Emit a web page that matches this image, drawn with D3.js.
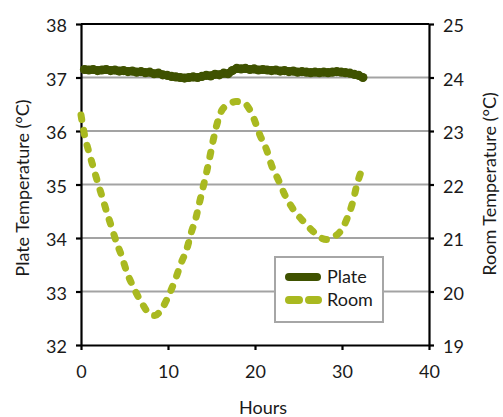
<!DOCTYPE html>
<html>
<head>
<meta charset="utf-8">
<script src="https://cdn.jsdelivr.net/npm/d3@7"></script>
<style>
  html, body { margin: 0; padding: 0; background: #fff; }
  svg text { font-family: Lato, "Open Sans", sans-serif; fill: #1a1a1a; }
</style>
</head>
<body>
<svg id="chart" width="503" height="417"></svg>
<script>
// Plate temperature (left axis, °C) by elapsed hours
const plateHours = [0.4,0.9,1.4,1.9,2.4,2.9,3.4,3.9,4.4,4.9,5.4,5.9,6.4,6.9,7.4,7.9,8.4,8.9,9.4,9.9,10.4,10.9,11.4,11.9,12.4,12.9,13.4,13.9,14.4,14.9,15.4,15.9,16.4,16.9,17.4,17.9,18.4,18.9,19.4,19.9,20.4,20.9,21.4,21.9,22.4,22.9,23.4,23.9,24.4,24.9,25.4,25.9,26.4,26.9,27.4,27.9,28.4,28.9,29.4,29.9,30.4,30.9,31.4,31.9,32.4];
const plateTemp = [37.15,37.14,37.15,37.13,37.14,37.15,37.13,37.14,37.12,37.13,37.11,37.12,37.10,37.11,37.09,37.10,37.07,37.08,37.05,37.04,37.02,37.01,37.00,36.99,37.00,37.01,37.00,37.02,37.04,37.03,37.06,37.05,37.08,37.07,37.13,37.17,37.16,37.17,37.15,37.16,37.14,37.15,37.14,37.13,37.14,37.12,37.13,37.11,37.12,37.10,37.11,37.10,37.09,37.10,37.09,37.10,37.09,37.10,37.11,37.10,37.09,37.08,37.06,37.04,37.00];

// Room temperature (right axis, °C) by elapsed hours
const roomHours = [0,0.4,0.9,1.4,1.9,2.45,2.95,3.5,4.1,4.7,5.25,6.0,6.9,7.9,8.5,9.3,10.2,10.9,11.5,12.15,12.65,13.2,13.6,14.05,14.45,14.85,15.2,15.6,16.2,17.0,17.8,18.6,19.2,19.9,20.55,21.35,21.9,22.7,23.45,24.3,25.4,26.7,27.6,28.3,29.0,29.8,30.6,31.3,31.7,32.15];
const roomTemp = [23.30,22.93,22.61,22.33,22.05,21.76,21.49,21.21,20.91,20.65,20.37,20.09,19.81,19.58,19.55,19.68,19.97,20.25,20.53,20.79,21.09,21.37,21.65,21.96,22.24,22.55,22.83,23.11,23.39,23.50,23.55,23.54,23.45,23.22,22.93,22.64,22.36,22.08,21.80,21.56,21.34,21.12,21.00,20.97,21.02,21.12,21.37,21.71,21.99,22.22];

// Axis ticks and labels
const xTicks = [0, 10, 20, 30, 40];
const leftTicks = [32, 33, 34, 35, 36, 37, 38];
const rightTicks = [19, 20, 21, 22, 23, 24, 25];
const seriesNames = ["Plate", "Room"];
const xTitle = "Hours";
const leftTitle = "Plate Temperature (°C)";
const rightTitle = "Room Temperature (°C)";

const plateColor = "#3f5200";
const roomColor = "#a9b920";

const svg = d3.select("#chart");
const L = 81, R = 429, T = 24, B = 345;

const x = d3.scaleLinear().domain([0, 40]).range([L, R]);
const yL = d3.scaleLinear().domain([32, 38]).range([B, T]);
const yR = d3.scaleLinear().domain([19, 25]).range([B, T]);
const fmt = d3.format("d");

// horizontal gridlines
svg.append("g").selectAll("line")
  .data(leftTicks.filter(v => v > 32 && v < 38))
  .join("line")
  .attr("x1", L).attr("x2", R)
  .attr("y1", d => yL(d)).attr("y2", d => yL(d))
  .attr("stroke", "#a3a3a3").attr("stroke-width", 2);

// top frame line
svg.append("line")
  .attr("x1", L).attr("x2", R).attr("y1", T).attr("y2", T)
  .attr("stroke", "#000").attr("stroke-width", 2);

function styleAxis(g) {
  g.select(".domain").attr("stroke", "#000").attr("stroke-width", 2.2);
  g.selectAll(".tick line").attr("stroke", "#000").attr("stroke-width", 2.2);
  g.selectAll("text").attr("font-size", 18).attr("font-family", "Lato, sans-serif").attr("fill", "#1a1a1a");
}

svg.append("g").attr("transform", `translate(0,${B})`)
  .call(d3.axisBottom(x).tickValues(xTicks).tickFormat(fmt).tickSize(5).tickSizeOuter(0).tickPadding(15))
  .call(styleAxis);

svg.append("g").attr("transform", `translate(${L},0)`)
  .call(d3.axisLeft(yL).tickValues(leftTicks).tickFormat(fmt).tickSize(5).tickSizeOuter(0).tickPadding(9))
  .call(styleAxis)
  .selectAll("text").attr("dy", "0.42em");

svg.append("g").attr("transform", `translate(${R},0)`)
  .call(d3.axisRight(yR).tickValues(rightTicks).tickFormat(fmt).tickSize(5).tickSizeOuter(0).tickPadding(9))
  .call(styleAxis)
  .selectAll("text").attr("dy", "0.42em");

// Room temperature: thick rounded dashes
const roomLine = d3.line()
  .x((d, i) => x(roomHours[i]))
  .y(d => yR(d))
  .curve(d3.curveMonotoneX);
svg.append("path")
  .attr("d", roomLine(roomTemp))
  .attr("fill", "none")
  .attr("stroke", roomColor)
  .attr("stroke-width", 7)
  .attr("stroke-linecap", "round")
  .attr("stroke-dasharray", "4.5,11");

// Plate temperature: dense round markers joined by a heavy line
const plateLine = d3.line()
  .x((d, i) => x(plateHours[i]))
  .y(d => yL(d));
svg.append("path")
  .attr("d", plateLine(plateTemp))
  .attr("fill", "none")
  .attr("stroke", plateColor)
  .attr("stroke-width", 8)
  .attr("stroke-linejoin", "round")
  .attr("stroke-linecap", "round");
svg.append("g").selectAll("circle")
  .data(plateTemp)
  .join("circle")
  .attr("cx", (d, i) => x(plateHours[i]))
  .attr("cy", d => yL(d))
  .attr("r", 4.6)
  .attr("fill", plateColor);

// legend
const lg = svg.append("g").attr("transform", "translate(275,257)");
lg.append("rect").attr("width", 108).attr("height", 65)
  .attr("fill", "#fff").attr("stroke", "#a6a6a6").attr("stroke-width", 2);
lg.append("line").attr("x1", 14).attr("x2", 42).attr("y1", 20).attr("y2", 20)
  .attr("stroke", plateColor).attr("stroke-width", 8).attr("stroke-linecap", "round");
lg.append("line").attr("x1", 14).attr("x2", 43).attr("y1", 43).attr("y2", 43)
  .attr("stroke", roomColor).attr("stroke-width", 8).attr("stroke-linecap", "round")
  .attr("stroke-dasharray", "10,10");
lg.selectAll("text.lbl").data(seriesNames).join("text")
  .attr("class", "lbl")
  .attr("x", 52).attr("y", (d, i) => 26 + i * 23)
  .attr("font-size", 18)
  .text(d => d);

// axis titles
svg.append("text")
  .attr("x", 263).attr("y", 414)
  .attr("text-anchor", "middle").attr("font-size", 18)
  .text(xTitle);
svg.append("text")
  .attr("transform", "translate(29,188) rotate(-90)")
  .attr("text-anchor", "middle").attr("font-size", 18)
  .text(leftTitle);
svg.append("text")
  .attr("transform", "translate(496,184) rotate(-90)")
  .attr("text-anchor", "middle").attr("font-size", 18)
  .text(rightTitle);
</script>
</body>
</html>
